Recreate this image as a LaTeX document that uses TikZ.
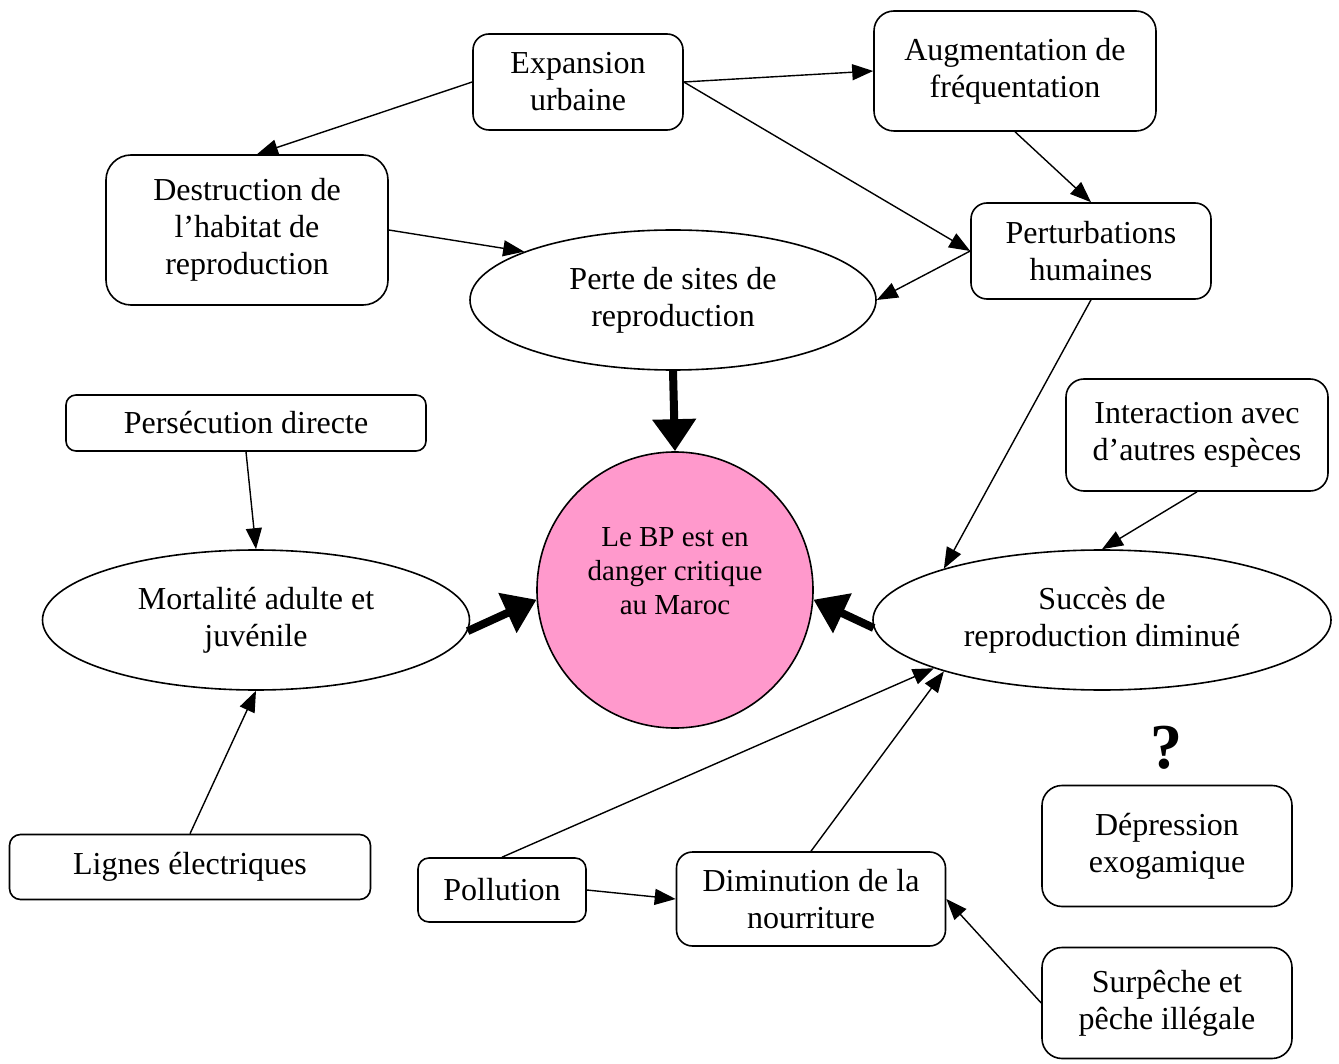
\documentclass[tikz,border=0pt]{standalone}
\usepackage{fontspec}
\setmainfont{Liberation Serif}
\usetikzlibrary{arrows.meta, shapes.geometric}

\begin{document}
\begin{tikzpicture}[x=1pt, y=-1pt,
        every node/.style={font=\fontsize{32}{37}\selectfont, align=center, inner sep=0pt},
        box/.style={draw, line width=1.6pt, rounded corners=16pt},
        oval/.style={draw, ellipse, line width=1.6pt, minimum height=140pt},
        fl/.style={line width=1.4pt, -{Triangle[length=21pt, width=16pt]}},
        gros/.style={line width=8pt, -{Triangle[length=32pt, width=42pt]}}]
        \useasboundingbox (0,0) rectangle (1339,1064);

        \node[box, minimum width=210pt, minimum height=96pt] (exp) at (578,82) {Expansion\\urbaine};
        \node[box, rounded corners=20pt, minimum width=282pt, minimum height=120pt] (aug) at (1015,71) {Augmentation de\\fréquentation};
        \node[box, rounded corners=25pt, minimum width=282pt, minimum height=150pt] (dest) at (247,230) {Destruction de\\l’habitat de\\reproduction};
        \node[box, minimum width=240pt, minimum height=96pt] (pert) at (1091,251) {Perturbations\\humaines};
        \node[oval, minimum width=406pt] (perte) at (673,300) {Perte de sites de\\reproduction};
        \node[box, rounded corners=10pt, minimum width=360pt, minimum height=56pt] (pers) at (246,423) {Persécution directe};
        \node[box, rounded corners=18pt, minimum width=262pt, minimum height=112pt] (inter) at (1197,435) {Interaction avec\\d’autres espèces};
        \node[draw, circle, line width=1.6pt, fill={rgb,255:red,255;green,153;blue,204}, minimum size=276pt] (bp) at (675,590) {};
        \node[font=\fontsize{29}{34}\selectfont] (bptxt) at (675,571) {Le BP est en\\danger critique\\au Maroc};
        \node[oval, minimum width=427pt] (mort) at (256,620) {Mortalité adulte et\\juvénile};
        \node[oval, minimum width=458pt] (succ) at (1102,620) {Succès de\\reproduction diminué};
        \node[font=\fontsize{64}{70}\selectfont\bfseries] (qm) at (1166,748) {?};
        \node[box, rounded corners=20pt, minimum width=250pt, minimum height=121pt] (dep) at (1167,846) {Dépression\\exogamique};
        \node[box, rounded corners=11pt, minimum width=361pt, minimum height=65pt] (lig) at (190,867) {Lignes électriques};
        \node[box, rounded corners=11pt, minimum width=168pt, minimum height=64pt] (pol) at (502,890) {Pollution};
        \node[box, minimum width=269pt, minimum height=94pt] (dim) at (811,899) {Diminution de la\\nourriture};
        \node[box, rounded corners=20pt, minimum width=250pt, minimum height=111pt] (surp) at (1167,1003) {Surpêche et\\pêche illégale};

        \draw[fl] (exp.west) -- ([xshift=10pt]dest.north);
        \draw[fl] (exp.east) -- (aug.west);
        \draw[fl] (exp.east) -- (pert.west);
        \draw[fl] (aug.south) -- (pert.north);
        \draw[fl] (pert.west) -- (perte.east);
        \draw[fl] (dest.east) -- (perte.162);
        \draw[fl] (pers.south) -- (mort.north);
        \draw[fl] (pert.south) -- (succ.162);
        \draw[fl] (inter.south) -- (succ.north);
        \draw[fl] (lig.north) -- (mort.south);
        \draw[fl] (pol.north) -- (succ.196);
        \draw[fl] (dim.north) -- (succ.198);
        \draw[fl] (pol.east) -- (dim.west);
        \draw[fl] (surp.west) -- (dim.east);

        \draw[gros] (perte.south) -- (bp.north);
        \draw[gros] (mort.-3) -- (bp.184);
        \draw[gros] (succ.182) -- (bp.-4);
\end{tikzpicture}
\end{document}
